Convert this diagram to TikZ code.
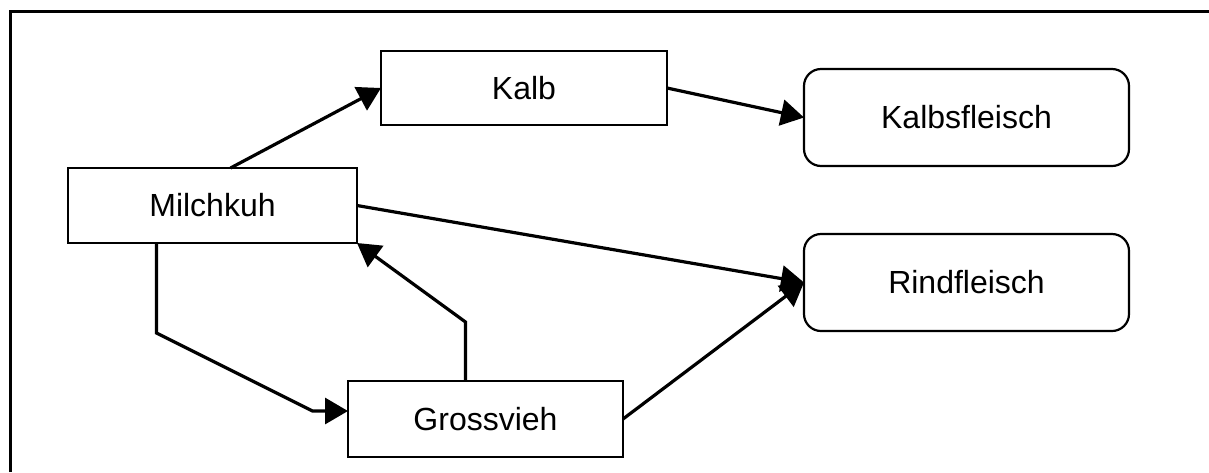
\documentclass[tikz,border=0pt]{standalone}
\usepackage{fontspec}
\setmainfont{Liberation Sans}
\usetikzlibrary{arrows.meta}

\begin{document}
\begin{tikzpicture}[x=0.5pt,y=-0.5pt,
    every node/.style={font=\fontsize{16}{19}\selectfont,inner sep=0pt,outer sep=0pt},
    box/.style={draw,line width=1.1pt},
    meat/.style={draw,line width=1.1pt,rounded corners=8.5pt,minimum width=162.5pt,minimum height=48.5pt},
    arr/.style={line width=1.6pt,-{Triangle[length=11.5pt,width=13pt]}}]
            \useasboundingbox (0,0) rectangle (1209,472);
            \draw[line width=1.5pt] (10,472) -- (10,11) -- (1209,11);
            \node[box,minimum width=144.5pt,minimum height=37.5pt] (milch) at (212.5,205.5) {Milchkuh};
            \node[box,minimum width=143pt,minimum height=37pt] (kalb) at (524,88) {Kalb};
            \node[box,minimum width=137.5pt,minimum height=38pt] (gross) at (485.5,419) {Grossvieh};
            \node[meat] (kalbs) at (966.5,117.5) {Kalbsfleisch};
            \node[meat] (rind) at (966.5,282.5) {Rindfleisch};
            \draw[arr] ([xshift=9pt]milch.north) -- (kalb.west);
            \draw[arr] (kalb.east) -- (kalbs.west);
            \draw[arr] (milch.east) -- (rind.west);
            \draw[arr] (gross.east) -- (rind.west);
            \draw[arr] ([xshift=-10pt]gross.north) -- ++(0,-59) -- (milch.south east);
            \draw[arr] ([xshift=-28pt]milch.south) -- ++(0,90) -- ++(156,78) -- ([yshift=4pt]gross.west);
        \end{tikzpicture}
\end{document}
